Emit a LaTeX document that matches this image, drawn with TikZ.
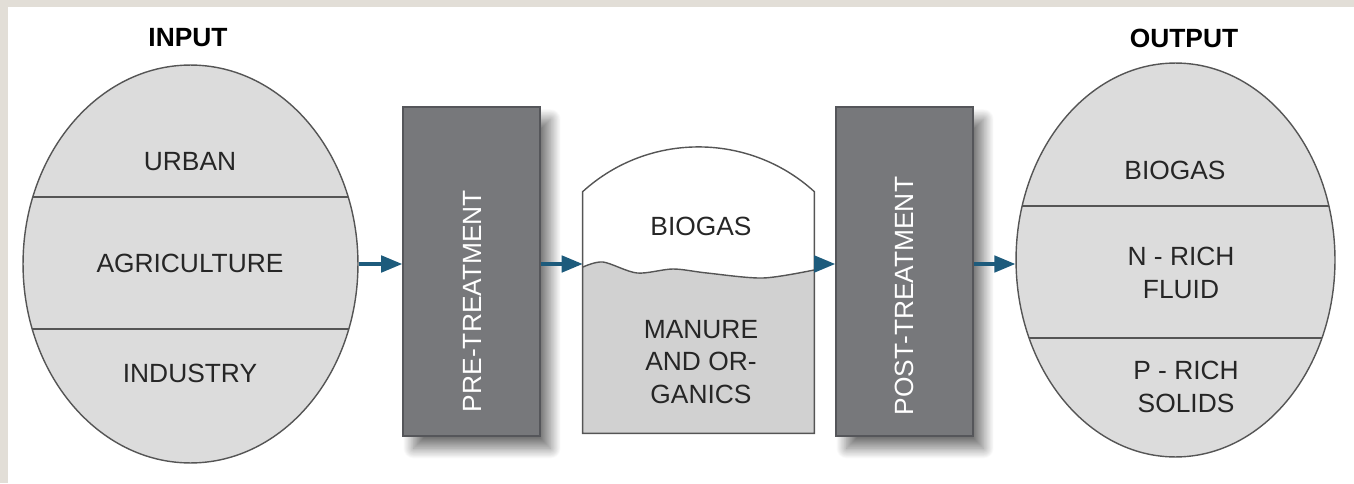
\documentclass[tikz,border=0pt]{standalone}
\usepackage{fontspec}
\setmainfont{Liberation Sans}
\usetikzlibrary{shapes.geometric,arrows.meta,shadows.blur}

\definecolor{bandgray}{HTML}{E2DED7}
\definecolor{ellfill}{HTML}{DCDCDC}
\definecolor{boxfill}{HTML}{77787B}
\definecolor{boxline}{HTML}{55565A}
\definecolor{liquid}{HTML}{D1D1D1}
\definecolor{linegray}{HTML}{555555}
\definecolor{textdark}{HTML}{262626}
\definecolor{arrowblue}{HTML}{1D5B7C}

\tikzset{
	flow/.style={draw=arrowblue, line width=1.9pt, -{Triangle[length=0.42cm,width=0.33cm]}},
	source/.style={ellipse, draw=linegray, fill=ellfill, line width=0.8pt, inner sep=0pt},
	stage/.style={draw=boxline, fill=boxfill, line width=0.9pt, inner sep=0pt,
		minimum width=2.74cm, minimum height=6.58cm,
		blur shadow={shadow xshift=6pt, shadow yshift=-7pt, shadow blur radius=6pt,
			shadow blur steps=25, shadow opacity=55}},
	stagetext/.style={rotate=90, text=white},
	part/.style={text=textdark, align=center},
	head/.style={font=\fontsize{15}{18.5}\selectfont\bfseries, text=black},
	sep/.style={draw=linegray, line width=0.8pt}
}

\begin{document}
\begin{tikzpicture}[x=0.02cm, y=-0.02cm, font=\fontsize{15}{18.5}\selectfont]
		\useasboundingbox (0,0) rectangle (1354,483);
		\fill[bandgray] (0,0) rectangle (1354,7);
		\fill[bandgray] (0,0) rectangle (8,483);

		\node[head] (inhead) at (188,38) {INPUT};
		\node[head] (outhead) at (1184,38) {OUTPUT};

		\node[source, minimum width=6.7cm, minimum height=7.96cm] (input) at (190.5,264) {};
		\begin{scope}
			\clip (190.5,264) ellipse [x radius=167.5, y radius=199];
			\draw[sep] (0,197) -- (400,197);
			\draw[sep] (0,329) -- (400,329);
		\end{scope}
		\node[part] (urban) at (190,162) {URBAN};
		\node[part] (agri) at (190,263) {AGRICULTURE};
		\node[part] (industry) at (190,373) {INDUSTRY};

		\node[stage] (pre) at (471.5,271.5) {};
		\node[stagetext] (pretext) at (472,301) {PRE-TREATMENT};

		\node[inner sep=0pt, minimum width=4.62cm, minimum height=4.82cm] (tank) at (698.5,312.5) {};
		\fill[liquid] plot[smooth] coordinates {(583,267) (603,262) (637,273) (673,269) (707,273) (763,278) (814,270)} -- (814,433) -- (583,433) -- cycle;
		\draw[sep] plot[smooth] coordinates {(583,267) (603,262) (637,273) (673,269) (707,273) (763,278) (814,270)};
		\draw[sep] (tank.south west) -- (tank.north west) .. controls (648,132) and (749,132) .. (tank.north east) -- (tank.south east) -- cycle;
		\node[part] (gas) at (701,226) {BIOGAS};
		\node[part] (manure) at (701,362) {MANURE\\AND OR-\\GANICS};

		\node[stage] (post) at (904.5,271.5) {};
		\node[stagetext] (posttext) at (904,296) {POST-TREATMENT};

		\node[source, minimum width=6.38cm, minimum height=7.88cm] (output) at (1175.5,260) {};
		\begin{scope}
			\clip (1175.5,260) ellipse [x radius=159.5, y radius=197];
			\draw[sep] (1000,206) -- (1350,206);
			\draw[sep] (1000,338) -- (1350,338);
		\end{scope}
		\node[part] (biogas) at (1175,170) {BIOGAS};
		\node[part] (fluid) at (1181,273) {N - RICH\\FLUID};
		\node[part] (solids) at (1186,387) {P - RICH\\SOLIDS};

		\draw[flow] (input.east) -- (input.east -| pre.west);
		\draw[flow] (pre.east |- input.east) -- (tank.west |- input.east);
		\draw[flow] (tank.east |- input.east) -- (post.west |- input.east);
		\draw[flow] (post.east |- input.east) -- (output.west |- input.east);
\end{tikzpicture}
\end{document}
